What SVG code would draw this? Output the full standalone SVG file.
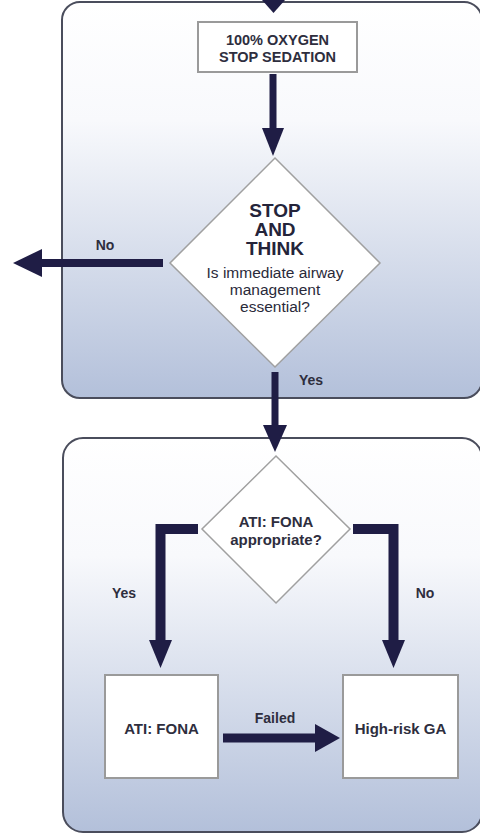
<svg xmlns="http://www.w3.org/2000/svg" width="480" height="836" viewBox="0 0 480 836">
  <defs>
    <linearGradient id="panelFill" x1="0" y1="0" x2="0" y2="1">
      <stop offset="0" stop-color="#ffffff"/>
      <stop offset="0.3" stop-color="#f8f9fc"/>
      <stop offset="1" stop-color="#b3c0da"/>
    </linearGradient>
    <style>
      .panel { fill: url(#panelFill); stroke: #4a4d5c; stroke-width: 2; }
      .box { fill: #ffffff; stroke: #9a9a9a; stroke-width: 2; }
      .diamond { fill: #ffffff; stroke: #a0a0a0; stroke-width: 1.5; }
      .shaft { fill: none; stroke: #1f1d45; stroke-linejoin: miter; }
      .head { fill: #1f1d45; }
      text { font-family: "Liberation Sans", Arial, sans-serif; font-weight: bold; fill: #2e2e3e; text-anchor: middle; }
      .lbl { font-size: 14px; }
      .big { font-size: 19px; fill: #24243a; }
      .q { font-size: 15.5px; font-weight: normal; fill: #2a2a3a; }
      .box-t { font-size: 14.5px; }
      .node-t { font-size: 15px; }
      .dq { font-size: 15px; }
    </style>
  </defs>

  <!-- panels -->
  <g id="panel-top">
    <rect class="panel" x="62" y="2" width="420" height="396" rx="18" ry="18"/>
  </g>
  <g id="panel-bottom">
    <rect class="panel" x="63" y="438" width="419" height="394" rx="20" ry="20"/>
  </g>

  <!-- nodes -->
  <g id="oxygen">
    <rect class="box" x="198" y="22" width="159" height="50"/>
    <text class="box-t" x="277.5" y="45">100% OXYGEN</text>
    <text class="box-t" x="277.5" y="62">STOP SEDATION</text>
  </g>

  <g id="stop-think">
    <polygon class="diamond" points="275,158 380,263 275,367 170,263"/>
    <text class="big" x="275" y="217">STOP</text>
    <text class="big" x="275" y="236">AND</text>
    <text class="big" x="275" y="255">THINK</text>
    <text class="q" x="275" y="278">Is immediate airway</text>
    <text class="q" x="275" y="295">management</text>
    <text class="q" x="275" y="312">essential?</text>
  </g>

  <g id="fona-question">
    <polygon class="diamond" points="276,456 350,529 276,603 202,529"/>
    <text class="dq" x="276" y="527">ATI: FONA</text>
    <text class="dq" x="276" y="545">appropriate?</text>
  </g>

  <g id="fona">
    <rect class="box" x="105" y="675" width="113" height="103"/>
    <text class="node-t" x="161.5" y="734">ATI: FONA</text>
  </g>

  <g id="high-risk-ga">
    <rect class="box" x="343" y="675" width="115" height="103"/>
    <text class="node-t" x="400.5" y="734">High-risk GA</text>
  </g>

  <!-- connectors -->
  <g id="connectors">
    <!-- entry arrow -->
    <polygon class="head" points="262,0 285,0 273.5,13"/>

    <!-- oxygen to stop-think -->
    <line class="shaft" x1="273" y1="74" x2="273" y2="130" stroke-width="7"/>
    <polygon class="head" points="262,128 284,128 273,156"/>

    <!-- No: exit left -->
    <line class="shaft" x1="163" y1="263" x2="38" y2="263" stroke-width="8"/>
    <polygon class="head" points="13,263 42,249 42,277"/>
    <text class="lbl" x="105" y="250">No</text>

    <!-- Yes: down to second panel -->
    <line class="shaft" x1="275" y1="372" x2="275" y2="428" stroke-width="7"/>
    <polygon class="head" points="263,425 287,425 275,452"/>
    <text class="lbl" x="311" y="385">Yes</text>

    <!-- Yes: to ATI FONA -->
    <polyline class="shaft" points="198,529 160.5,529 160.5,642" stroke-width="10"/>
    <polygon class="head" points="149,640 172,640 160.5,668"/>
    <text class="lbl" x="124" y="598">Yes</text>

    <!-- No: to High-risk GA -->
    <polyline class="shaft" points="353,529 393.5,529 393.5,642" stroke-width="10"/>
    <polygon class="head" points="382,640 405,640 393.5,668"/>
    <text class="lbl" x="425" y="598">No</text>

    <!-- Failed -->
    <line class="shaft" x1="223" y1="738" x2="318" y2="738" stroke-width="9"/>
    <polygon class="head" points="315,724 340,738 315,752"/>
    <text class="lbl" x="275" y="723">Failed</text>
  </g>
</svg>
